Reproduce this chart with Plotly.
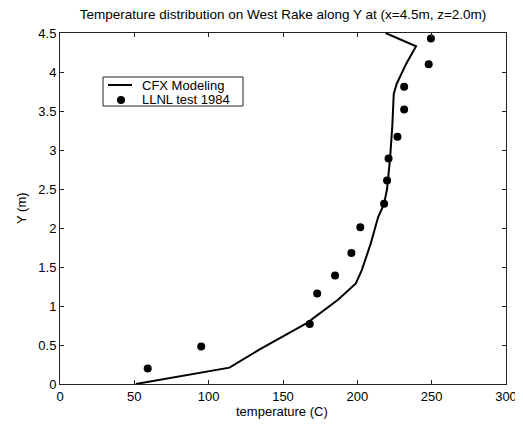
import plotly.graph_objects as go

# CFX Modeling curve
cfx_temp = [51, 114, 134, 166, 187, 199, 203, 209, 214, 218, 220, 222, 223.5, 224.5, 226.5, 230, 233, 239.5, 219]
cfx_y = [0, 0.21, 0.44, 0.78, 1.08, 1.29, 1.46, 1.80, 2.14, 2.31, 2.5, 2.89, 3.3, 3.72, 3.85, 4.0, 4.11, 4.33, 4.5]

# LLNL test 1984 measurements
llnl_temp = [59, 95, 168, 173, 185, 196, 202, 218, 220, 221, 227, 231.5, 231.5, 248, 249.5]
llnl_y = [0.20, 0.48, 0.77, 1.16, 1.39, 1.68, 2.01, 2.31, 2.61, 2.89, 3.17, 3.52, 3.81, 4.10, 4.43]

x_ticks = [0, 50, 100, 150, 200, 250, 300]
y_ticks = [0, 0.5, 1, 1.5, 2, 2.5, 3, 3.5, 4, 4.5]

series_names = ["CFX Modeling", "LLNL test 1984"]
x_title = "temperature (C)"
y_title = "Y (m)"

font_family = "Liberation Sans, Arial, sans-serif"
FS = 13
OFF = 8  # default page body margin offsets the figure
W, H = 523 - OFF, 426 - OFF
# plot area in page pixels: x 60..506, y 33..384
L, T = 60 - OFF, 33 - OFF
R = W - (506 - OFF)
B = H - (384 - OFF)
pw, ph = W - L - R, H - T - B


def px_to_paper_x(px):
    return (px - OFF - L) / pw


def px_to_paper_y(py):
    return (H - B - (py - OFF)) / ph


fig = go.Figure()
fig.add_trace(go.Scatter(x=cfx_temp, y=cfx_y, mode="lines", name=series_names[0],
                         line=dict(color="black", width=2), showlegend=False))
fig.add_trace(go.Scatter(x=llnl_temp, y=llnl_y, mode="markers", name=series_names[1],
                         marker=dict(color="black", size=8, symbol="circle"), showlegend=False))

axis_common = dict(
    showline=True, linecolor="#222222", linewidth=1, mirror="ticks",
    ticks="inside", ticklen=4, tickcolor="#222222", tickwidth=1,
    showgrid=False, zeroline=False, automargin=False,
    tickfont=dict(family=font_family, size=FS, color="black"),
)

# Legend drawn as a MATLAB-style compact box
shapes = [
    dict(type="rect", xref="paper", yref="paper",
         x0=px_to_paper_x(103), x1=px_to_paper_x(243),
         y0=px_to_paper_y(106), y1=px_to_paper_y(77),
         line=dict(color="#222222", width=1), fillcolor="white", layer="above"),
    dict(type="line", xref="paper", yref="paper",
         x0=px_to_paper_x(108), x1=px_to_paper_x(132),
         y0=px_to_paper_y(85), y1=px_to_paper_y(85),
         line=dict(color="black", width=2), layer="above"),
    dict(type="circle", xref="paper", yref="paper",
         xsizemode="pixel", ysizemode="pixel",
         xanchor=px_to_paper_x(121), yanchor=px_to_paper_y(100),
         x0=-4, x1=4, y0=-4, y1=4,
         line=dict(color="black", width=0), fillcolor="black", layer="above"),
]
annotations = [
    dict(text=series_names[0], xref="paper", yref="paper",
         x=px_to_paper_x(140), y=px_to_paper_y(85.5), xanchor="left", yanchor="middle",
         showarrow=False, font=dict(family=font_family, size=FS, color="black")),
    dict(text=series_names[1], xref="paper", yref="paper",
         x=px_to_paper_x(140), y=px_to_paper_y(99), xanchor="left", yanchor="middle",
         showarrow=False, font=dict(family=font_family, size=FS, color="black")),
    # axis titles
    dict(text=x_title, xref="paper", yref="paper",
         x=px_to_paper_x(282), y=px_to_paper_y(411), xanchor="center", yanchor="middle",
         showarrow=False, font=dict(family=font_family, size=FS, color="black")),
    dict(text=y_title, xref="paper", yref="paper", textangle=-90,
         x=px_to_paper_x(21), y=px_to_paper_y(208), xanchor="center", yanchor="middle",
         showarrow=False, font=dict(family=font_family, size=FS, color="black")),
]

fig.update_layout(
    width=W, height=H,
    margin=dict(l=L, r=R, t=T, b=B),
    paper_bgcolor="white", plot_bgcolor="white",
    title=dict(text="Temperature distribution on West Rake along Y at (x=4.5m, z=2.0m)",
               x=(L + pw / 2) / W, xanchor="center", y=1 - (14 - OFF) / H, yanchor="middle",
               font=dict(family=font_family, size=13.5, color="black")),
    xaxis=dict(range=[0, 300], tickvals=x_ticks, ticktext=[str(v) for v in x_ticks],
               **axis_common),
    yaxis=dict(range=[0, 4.5], tickvals=y_ticks, ticktext=[("%g" % v) for v in y_ticks],
               **axis_common),
    shapes=shapes,
    annotations=annotations,
    showlegend=False,
)

fig.write_html("out.html")
